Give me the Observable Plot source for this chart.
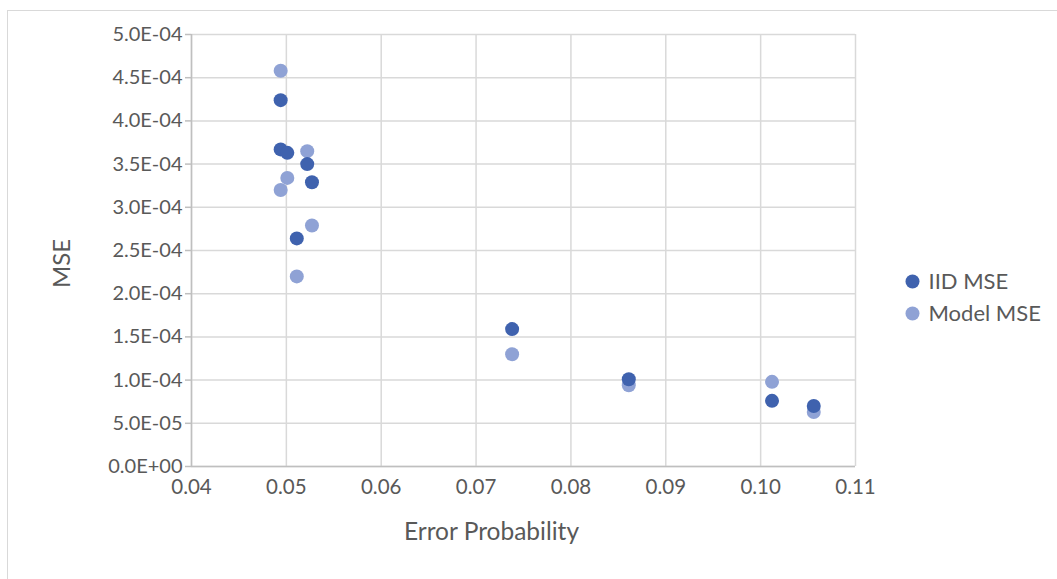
<!DOCTYPE html>
<html>
<head>
<meta charset="utf-8">
<script src="https://cdn.jsdelivr.net/npm/d3@7"></script>
<script src="https://cdn.jsdelivr.net/npm/@observablehq/plot@0.6"></script>
<style>
  html, body { margin: 0; padding: 0; background: #fff; }
  #wrap { position: relative; width: 1057px; height: 579px; overflow: hidden; font-family: Lato, sans-serif; }
  #border { position: absolute; left: 7px; top: 10px; width: 1200px; height: 700px; border: 1.5px solid #d9d9d9; box-sizing: border-box; }
  #chart { position: absolute; left: 0; top: 0; }
</style>
</head>
<body>
<div id="wrap"><div id="border"></div><div id="chart"></div></div>
<script>
const seriesNames = ["IID MSE", "Model MSE"];
const seriesColors = ["#3f62ae", "#8fa2d5"];
const errorProb = [0.0494, 0.0494, 0.0501, 0.0522, 0.0527, 0.0511, 0.0738, 0.0861, 0.1012, 0.1056];
const iidMSE   = [4.24e-4, 3.67e-4, 3.63e-4, 3.50e-4, 3.29e-4, 2.64e-4, 1.59e-4, 1.01e-4, 7.6e-5, 7.0e-5];
const modelMSE = [4.58e-4, 3.20e-4, 3.34e-4, 3.65e-4, 2.79e-4, 2.20e-4, 1.30e-4, 9.4e-5, 9.8e-5, 6.3e-5];
const xTicks = [0.04, 0.05, 0.06, 0.07, 0.08, 0.09, 0.10, 0.11];
const yTicks = [0, 5e-5, 1e-4, 1.5e-4, 2e-4, 2.5e-4, 3e-4, 3.5e-4, 4e-4, 4.5e-4, 5e-4];
const xTitle = "Error Probability";
const yTitle = "MSE";

function sci(v) {
  if (v === 0) return "0.0E+00";
  const e = Math.floor(Math.log10(Math.abs(v)) + 1e-9);
  const m = v / Math.pow(10, e);
  const sign = e < 0 ? "-" : "+";
  return m.toFixed(1) + "E" + sign + String(Math.abs(e)).padStart(2, "0");
}

const iidData = errorProb.map((x, i) => ({x, y: iidMSE[i]}));
const modelData = errorProb.map((x, i) => ({x, y: modelMSE[i]}));

const textColor = "#595959";
const plot = Plot.plot({
  width: 1057,
  height: 579,
  marginLeft: 191,
  marginRight: 202,
  marginTop: 34,
  marginBottom: 113,
  style: {fontFamily: "Lato, sans-serif", fontSize: "20px", color: textColor, background: "transparent"},
  x: {domain: [0.04, 0.11]},
  y: {domain: [0, 5e-4]},
  marks: [
    Plot.gridX(xTicks, {stroke: "#d9d9d9", strokeOpacity: 1, strokeWidth: 1.5}),
    Plot.gridY(yTicks, {stroke: "#d9d9d9", strokeOpacity: 1, strokeWidth: 1.5}),
    Plot.axisX(xTicks, {tickSize: 0, tickPadding: 13, tickFormat: d => d.toFixed(2), fill: textColor, label: null, fontSize: 20.5}),
    Plot.axisY(yTicks, {tickSize: 6, tickPadding: 3, stroke: "#bfbfbf", strokeWidth: 1.5, tickFormat: sci, fill: textColor, label: null, fontSize: 20}),
    Plot.ruleX([0.04], {stroke: "#bfbfbf", strokeWidth: 1.5}),
    Plot.ruleY([0], {stroke: "#bfbfbf", strokeWidth: 1.5}),
    Plot.dot(modelData, {x: "x", y: "y", r: 7, fill: seriesColors[1], stroke: "none"}),
    Plot.dot(iidData, {x: "x", y: "y", r: 7, fill: seriesColors[0], stroke: "none"}),
    Plot.text([xTitle], {frameAnchor: "bottom", dx: -32, dy: 66, fill: textColor, fontSize: 24.5, lineAnchor: "middle"}),
    Plot.text([yTitle], {frameAnchor: "left", dx: -129, dy: 13, rotate: -90, textAnchor: "middle", fill: textColor, fontSize: 24, lineAnchor: "middle"}),
    Plot.dot([seriesNames[0]], {frameAnchor: "right", dx: 57, dy: 31, r: 7, fill: seriesColors[0], stroke: "none"}),
    Plot.dot([seriesNames[1]], {frameAnchor: "right", dx: 57, dy: 63, r: 7, fill: seriesColors[1], stroke: "none"}),
    Plot.text([seriesNames[0]], {frameAnchor: "right", dx: 73, dy: 31, textAnchor: "start", fill: textColor, fontSize: 22, lineAnchor: "middle"}),
    Plot.text([seriesNames[1]], {frameAnchor: "right", dx: 73, dy: 63, textAnchor: "start", fill: textColor, fontSize: 22, lineAnchor: "middle"})
  ]
});
document.getElementById("chart").appendChild(plot);
</script>
</body>
</html>
